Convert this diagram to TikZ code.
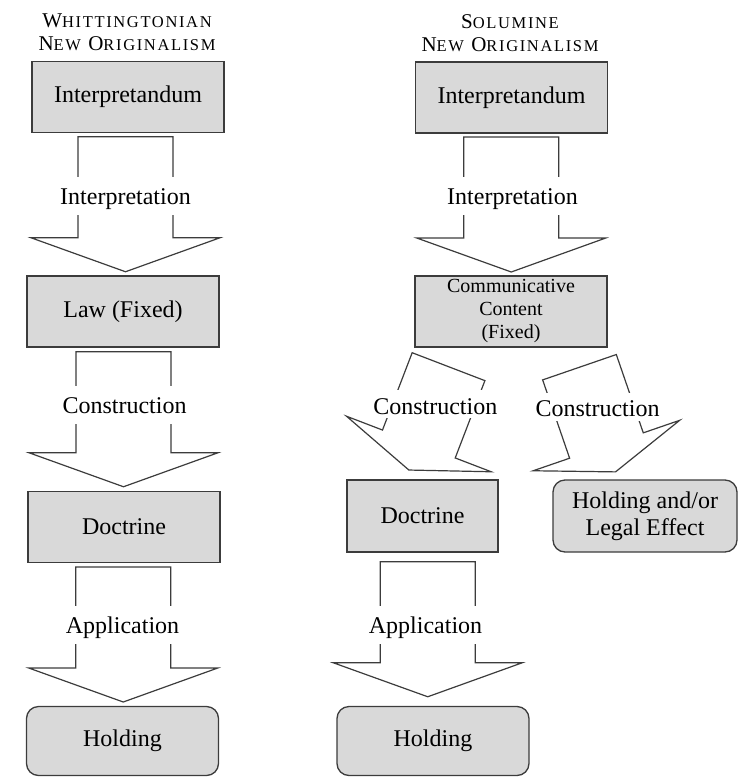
\documentclass[tikz,border=0pt]{standalone}
\usepackage{fontspec}
\setmainfont{Liberation Serif}
\newfontfamily\headfont[LetterSpace=10]{Liberation Serif}
\usetikzlibrary{calc}
\definecolor{boxgray}{RGB}{217,217,217}
\definecolor{linegray}{RGB}{60,60,60}
\newcommand{\smcaps}[1]{{\fontsize{16.5}{23}\selectfont #1}}
\tikzset{
    blockarrow/.pic={
        \draw[linegray, line width=1.2pt, line join=miter, fill=white]
            (-47.5,-67.5) -- (47.5,-67.5) -- (47.5,33.5) -- (94.5,33.5)
            -- (0,67.5) -- (-94.5,33.5) -- (-47.5,33.5) -- cycle;
    }
}

\begin{document}
\begin{tikzpicture}[x=1pt, y=-1pt,
        box/.style={draw=linegray, line width=1.3pt, fill=boxgray, minimum width=192pt,
            minimum height=71pt, inner sep=0pt, align=center, font=\fontsize{24}{27}\selectfont},
        endbox/.style={box, rounded corners=12pt, minimum height=69pt},
        gaplabel/.style={fill=white, inner xsep=1pt, inner ysep=0pt, text height=27pt,
            text depth=11pt, font=\fontsize{24}{27}\selectfont},
        slantlabel/.style={gaplabel, text height=24pt, text depth=4pt},
        heading/.style={anchor=north, inner sep=0pt, align=center,
            font=\headfont\fontsize{21}{23}\selectfont}]
    \useasboundingbox (0,0) rectangle (738,777);

    \node[heading] (headL) at (127,14) {W\smcaps{HITTINGTONIAN}\\N\smcaps{EW} O\smcaps{RIGINALISM}};
    \node[heading] (headR) at (510,14) {S\smcaps{OLUMINE}\\N\smcaps{EW} O\smcaps{RIGINALISM}};

    \node[box] (interpL) at (128,97) {Interpretandum};
    \node[box] (lawL) at (123,311.5) {Law (Fixed)};
    \node[box] (doctrineL) at (124,527) {Doctrine};
    \node[endbox] (holdingL) at (122.5,741) {Holding};

    \node[box] (interpR) at (511.5,97.5) {Interpretandum};
    \node[box, font=\fontsize{20}{23}\selectfont] (contentR) at (511,311.5) {Communicative\\Content\\(Fixed)};
    \node[box, minimum width=151pt, minimum height=72pt] (doctrineR) at (422.5,516) {Doctrine};
    \node[endbox, minimum width=184pt, minimum height=72pt] (effectR) at (645,516) {Holding and/or\\Legal Effect};
    \node[endbox] (holdingR) at (433,741) {Holding};

    \pic at ($(interpL.south)!0.5!(lawL.north)$) {blockarrow};
    \pic at ($(lawL.south)!0.5!(doctrineL.north)$) {blockarrow};
    \pic at ($(doctrineL.south)!0.5!(holdingL.north)$) {blockarrow};
    \pic at ($(interpR.south)!0.5!(contentR.north)$) {blockarrow};
    \pic at ($(doctrineR.south)!0.5!(holdingR.north)$) {blockarrow};
    \pic[rotate=-21, scale=0.82] at ($(contentR.south)+(-82.3,70.7)$) {blockarrow};
    \pic[rotate=19, scale=0.82] at ($(contentR.south)+(86.5,71.9)$) {blockarrow};

    \node[gaplabel] (lblInterpL) at (125.5,196.3) {Interpretation};
    \node[gaplabel] (lblConstrL) at (124.5,405.3) {Construction};
    \node[gaplabel] (lblApplL) at (122.5,625.3) {Application};
    \node[gaplabel] (lblInterpR) at (512.5,196.3) {Interpretation};
    \node[gaplabel] (lblApplR) at (425.5,625) {Application};
    \node[slantlabel] (lblConstrA) at (435.3,404) {Construction};
    \node[slantlabel] (lblConstrB) at (597.5,406.7) {Construction};
\end{tikzpicture}
\end{document}
